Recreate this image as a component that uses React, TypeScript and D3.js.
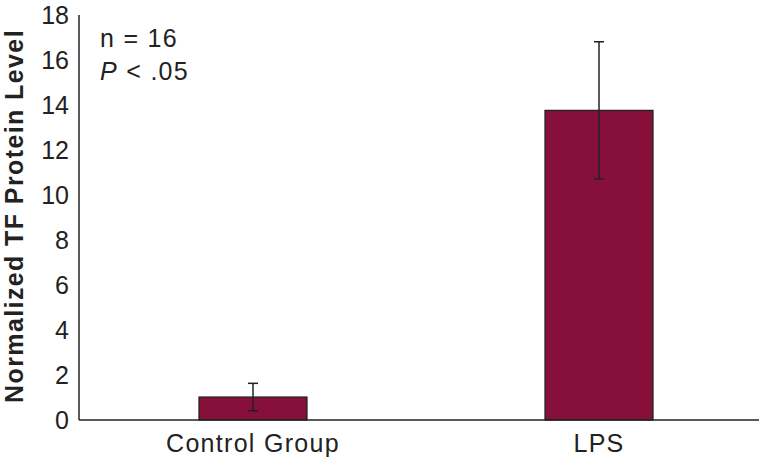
import React from "react";
import * as d3 from "d3";

const categories = ["Control Group", "LPS"];
const means = [1.02, 13.76];
const errors = [0.61, 3.05];
const yTicks = [0, 2, 4, 6, 8, 10, 12, 14, 16, 18];

export default function App() {
  const W = 759, H = 459;
  const font = "'Liberation Sans', Arial, Helvetica, sans-serif";
  const y = d3.scaleLinear().domain([0, 18]).range([420, 15]);
  const x = d3
    .scaleBand<string>()
    .domain(categories)
    .range([80, 772])
    .paddingInner(0.688)
    .paddingOuter(0.344);
  const axisX = 79;
  const color = "#87103a";
  const ls = 1.3;
  return (
    <svg width={W} height={H} style={{ position: "absolute", left: 0, top: 0, background: "#fff" }}>
      {categories.map((c, i) => {
        const bx = x(c)!;
        const bw = x.bandwidth();
        const cx = bx + bw / 2;
        return (
          <g key={c}>
            <rect x={bx} y={y(means[i])} width={bw} height={y(0) - y(means[i])} fill={color} stroke="#222" strokeWidth={1.3} />
            <line x1={cx} x2={cx} y1={y(means[i] + errors[i])} y2={y(means[i] - errors[i])} stroke="#222" strokeWidth={1.5} />
            <line x1={cx - 5} x2={cx + 5} y1={y(means[i] + errors[i])} y2={y(means[i] + errors[i])} stroke="#222" strokeWidth={1.5} />
            <line x1={cx - 5} x2={cx + 5} y1={y(means[i] - errors[i])} y2={y(means[i] - errors[i])} stroke="#222" strokeWidth={1.5} />
            <text x={cx} y={452} textAnchor="middle" fontFamily={font} fontSize={25} letterSpacing={ls} fill="#222">{c}</text>
          </g>
        );
      })}
      <line x1={axisX} x2={axisX} y1={y(18)} y2={y(0)} stroke="#222" strokeWidth={1.5} />
      <line x1={axisX} x2={W} y1={y(0)} y2={y(0)} stroke="#222" strokeWidth={1.5} />
      {yTicks.map((t) => (
        <text key={t} x={69} y={y(t)} dy="0.36em" textAnchor="end" fontFamily={font} fontSize={25} fill="#222">{t}</text>
      ))}
      <text transform={`translate(23,216) rotate(-90)`} textAnchor="middle" fontFamily={font} fontSize={25} letterSpacing={1.4} fontWeight="bold" fill="#222">
        Normalized TF Protein Level
      </text>
      <text x={100} y={47} fontFamily={font} fontSize={25} letterSpacing={ls} fill="#222">n = 16</text>
      <text x={100} y={80} fontFamily={font} fontSize={25} letterSpacing={ls} fill="#222">
        <tspan fontStyle="italic">P</tspan> &lt; .05
      </text>
    </svg>
  );
}
